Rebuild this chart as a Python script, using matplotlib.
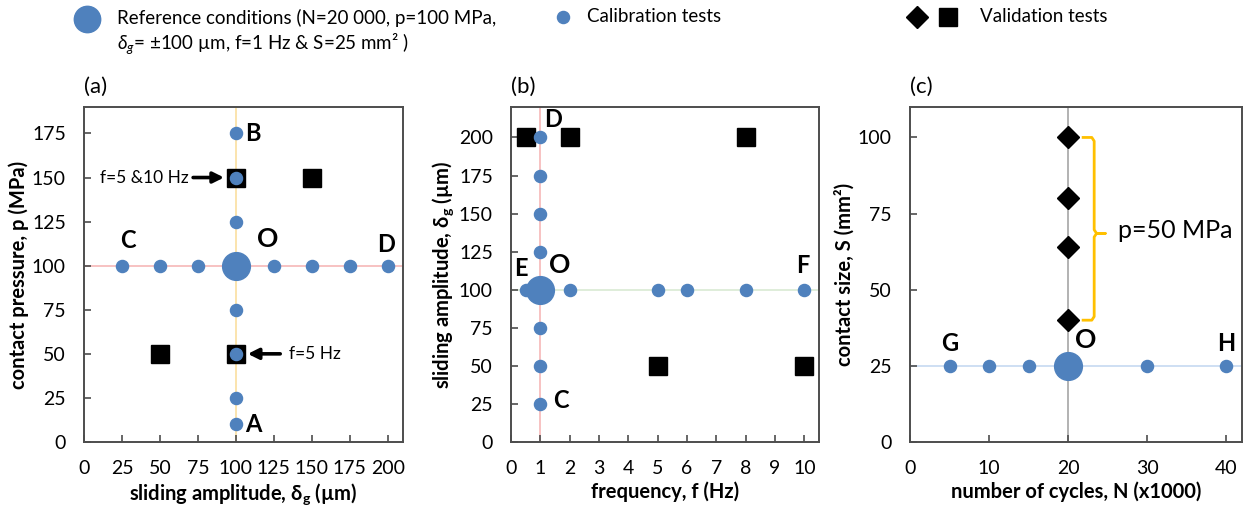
import numpy as np
import matplotlib
matplotlib.use("Agg")
import matplotlib.pyplot as plt
from matplotlib.lines import Line2D

plt.rcParams['font.family'] = ['Lato', 'DejaVu Sans']
plt.rcParams['mathtext.fontset'] = 'custom'
plt.rcParams['mathtext.rm'] = 'Lato'
plt.rcParams['mathtext.it'] = 'Lato:italic'
plt.rcParams['mathtext.bf'] = 'Lato:bold'

# colours
BLUE = '#4f81bd'
SPINE = '#4d4d4d'

# panel (a): sliding amplitude vs contact pressure
a_cal_x = [25, 50, 75, 125, 150, 175, 200, 100, 100, 100, 100, 100, 100, 100]
a_cal_y = [100, 100, 100, 100, 100, 100, 100, 10, 25, 50, 75, 125, 150, 175]
a_ref = [100, 100]
a_val_x = [100, 150, 50, 100]
a_val_y = [150, 150, 50, 50]

# panel (b): frequency vs sliding amplitude
b_cal_f = [1, 1, 1, 1, 1, 1, 1, 0.5, 2, 5, 6, 8, 10]
b_cal_d = [25, 50, 75, 125, 150, 175, 200, 100, 100, 100, 100, 100, 100]
b_ref = [1, 100]
b_val_f = [0.5, 2, 8, 5, 10]
b_val_d = [200, 200, 200, 50, 50]

# panel (c): number of cycles vs contact size
c_cal_n = [5, 10, 15, 30, 40]
c_cal_s = [25, 25, 25, 25, 25]
c_ref = [20, 25]
c_val_n = [20, 20, 20, 20]
c_val_s = [40, 64, 80, 100]

a_xticks = [0, 25, 50, 75, 100, 125, 150, 175, 200]
a_yticks = [0, 25, 50, 75, 100, 125, 150, 175]
b_xticks = [0, 1, 2, 3, 4, 5, 6, 7, 8, 9, 10]
b_yticks = [0, 25, 50, 75, 100, 125, 150, 175, 200]
c_xticks = [0, 10, 20, 30, 40]
c_yticks = [0, 25, 50, 75, 100]

fig = plt.figure(figsize=(12.53, 5.15), dpi=100)
W, H = 1253.0, 515.0

def make_ax(left, right, top=107, bottom=442):
    return fig.add_axes([left / W, 1 - bottom / H, (right - left) / W, (bottom - top) / H])

axA = make_ax(84, 403)
axB = make_ax(511, 819)
axC = make_ax(910, 1242)

for ax in (axA, axB, axC):
    for s in ax.spines.values():
        s.set_color(SPINE)
        s.set_linewidth(1.4)
    ax.tick_params(direction='in', length=5, width=1.2, color=SPINE,
                   labelsize=14, pad=13, labelcolor='black')

LAB = dict(fontsize=14.5, fontweight='bold')

def draw(ax, cx, cy, ref, vx, vy, vmarker, vsize, hcol, vcol):
    ax.axhline(ref[1], color=hcol, lw=1.2, zorder=1)
    ax.axvline(ref[0], color=vcol, lw=1.2, zorder=1)
    ax.plot(vx, vy, ls='none', marker=vmarker, ms=vsize, mfc='black',
            mec='black', zorder=2)
    ax.plot(cx, cy, ls='none', marker='o', ms=8.7, color=BLUE, zorder=3)
    ax.plot([ref[0]], [ref[1]], ls='none', marker='o', ms=20, color=BLUE, zorder=4)

def point_labels(ax, items):
    for t, x, y, fs in items:
        ax.text(x, y, t, fontsize=fs, fontweight='bold', ha='left', va='center')

# ---- (a)
draw(axA, a_cal_x, a_cal_y, a_ref, a_val_x, a_val_y, 's', 13, '#f6b8b8', '#fbdf9f')
axA.set_xlim(0, 210)
axA.set_ylim(0, 190)
axA.set_xticks(a_xticks)
axA.set_yticks(a_yticks)
axA.set_xlabel(r'sliding amplitude, $\mathbf{δ_g}$ (µm)', labelpad=3, **LAB)
axA.set_ylabel('contact pressure, p (MPa)', labelpad=2, **LAB)
point_labels(axA, [('B', 106, 175, 17), ('A', 106, 10, 17), ('C', 23.5, 114, 17),
                   ('D', 193, 112, 17), ('O', 114, 115, 19)])
axA.annotate('', xy=(94, 150), xytext=(70, 150),
             arrowprops=dict(arrowstyle='-|>', color='black', lw=2.6,
                             mutation_scale=16))
axA.text(69, 150, 'f=5 &10 Hz', fontsize=12.5, ha='right', va='center')
axA.annotate('', xy=(106, 50), xytext=(131, 50),
             arrowprops=dict(arrowstyle='-|>', color='black', lw=2.6,
                             mutation_scale=16))
axA.text(135, 50, 'f=5 Hz', fontsize=12.5, ha='left', va='center')
axA.text(0, 1.06, '(a)', transform=axA.transAxes, fontsize=16, ha='left', va='center')

# ---- (b)
draw(axB, b_cal_f, b_cal_d, b_ref, b_val_f, b_val_d, 's', 13, '#d9ead3', '#f6b8b8')
axB.set_xlim(0, 10.5)
axB.set_ylim(0, 220)
axB.set_xticks(b_xticks)
axB.set_yticks(b_yticks)
axB.set_xlabel('frequency, f (Hz)', labelpad=3, **LAB)
axB.set_ylabel(r'sliding amplitude, $\mathbf{δ_g}$ (µm)', labelpad=2, **LAB)
point_labels(axB, [('D', 1.13, 212, 17), ('C', 1.42, 27, 17), ('E', 0.12, 114, 17),
                   ('O', 1.28, 116, 19), ('F', 9.72, 116, 17)])
axB.text(0, 1.06, '(b)', transform=axB.transAxes, fontsize=16, ha='left', va='center')

# ---- (c)
draw(axC, c_cal_n, c_cal_s, c_ref, c_val_n, c_val_s, 'D', 11.5, '#c6d9f1', '#a6a6a6')
axC.set_xlim(0, 42)
axC.set_ylim(0, 110)
axC.set_xticks(c_xticks)
axC.set_yticks(c_yticks)
axC.set_xlabel('number of cycles, N (x1000)', labelpad=3, **LAB)
axC.set_ylabel('contact size, S (mm²)', labelpad=2, **LAB)
point_labels(axC, [('G', 4.0, 32.5, 17), ('O', 20.9, 33.5, 19), ('H', 38.8, 32.5, 17)])
# bracket spanning the validation diamonds
s_lo, s_hi = min(c_val_s), max(c_val_s)
s_mid = 68.5
bx = [21.9, 23.0, 23.3, 23.3, 23.6, 24.7, 23.6, 23.3, 23.3, 23.0, 21.9]
by = [s_hi, s_hi, s_hi - 1.2, s_mid + 1.2, s_mid, s_mid, s_mid, s_mid - 1.2,
      s_lo + 1.2, s_lo, s_lo]
axC.plot(bx, by, color='#ffc000', lw=2, solid_joinstyle='round', zorder=2)
axC.text(26.3, 69.5, 'p=50 MPa', fontsize=18, ha='left', va='center')
axC.text(0, 1.06, '(c)', transform=axC.transAxes, fontsize=16, ha='left', va='center')

# ---- legend row at top
def fig_marker(x, y, **kw):
    fig.add_artist(Line2D([x / W], [1 - y / H], transform=fig.transFigure,
                          ls='none', **kw))

LEG = dict(fontsize=13.5, ha='left', va='center')
fig_marker(87, 19, marker='o', ms=19, color=BLUE)
fig.text(117 / W, 1 - 18 / H, 'Reference conditions (N=20 000, p=100 MPa,', **LEG)
fig.text(117 / W, 1 - 44 / H, r'$\delta_g$= ±100 µm, f=1 Hz & S=25 mm² )', **LEG)
fig_marker(563, 17, marker='o', ms=8.7, color=BLUE)
fig.text(587 / W, 1 - 17 / H, 'Calibration tests', **LEG)
fig_marker(917, 17, marker='D', ms=11.5, color='black')
fig_marker(948, 17, marker='s', ms=13, color='black')
fig.text(980 / W, 1 - 17 / H, 'Validation tests', **LEG)

fig.savefig('out.png', dpi=100)
